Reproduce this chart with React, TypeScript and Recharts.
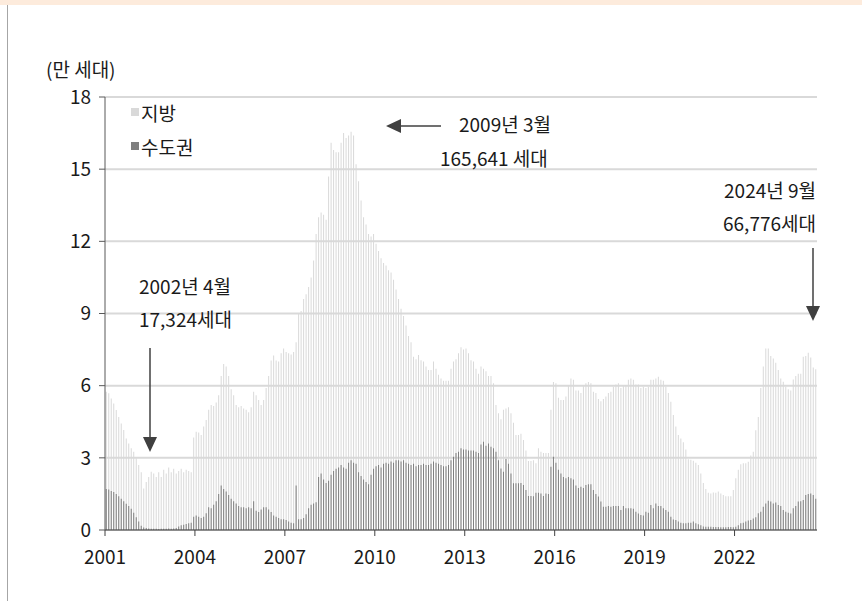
import { BarChart, Bar, XAxis, YAxis, CartesianGrid } from 'recharts';

const W = 862;
const H = 601;
const MARGIN = { top: 97, right: 45, bottom: 41, left: 0 };
const Y_AXIS_W = 105;
const X_AXIS_H = 30;
const FONT = "'Noto Sans CJK KR', 'Noto Sans', sans-serif";

// monthly categories, 2001-01 .. 2024-09
const months: string[] = [];
for (let y = 2001; y <= 2024; y++) {
  for (let m = 1; m <= 12; m++) {
    if (y === 2024 && m > 9) break;
    months.push(`${y}-${String(m).padStart(2, '0')}`);
  }
}

const yTicks = [0, 3, 6, 9, 12, 15, 18];

// top of each bar (지방 + 수도권), 만 세대
const stackTop = [
  5.75, 5.68, 5.47, 5.26, 4.99, 4.7, 4.43, 4.16, 3.8, 3.6, 3.4, 3.25, // 2001
  2.98, 2.7, 2.4, 1.73, 2.0, 2.2, 2.42, 2.35, 2.2, 2.4, 2.2, 2.5, // 2002
  2.35, 2.6, 2.4, 2.55, 2.35, 2.45, 2.55, 2.4, 2.5, 2.45, 2.4, 3.85, // 2003
  4.08, 4.05, 3.95, 4.3, 4.57, 5.0, 5.2, 5.15, 5.3, 5.6, 6.4, 6.9, // 2004
  6.8, 6.4, 5.85, 5.6, 5.2, 5.1, 5.15, 5.05, 5.0, 4.9, 5.1, 5.75, // 2005
  5.6, 5.4, 5.2, 5.4, 5.9, 6.4, 7.05, 7.25, 7.05, 7.0, 7.35, 7.55, // 2006
  7.4, 7.35, 7.3, 7.4, 7.8, 9.0, 9.1, 9.6, 9.8, 10.1, 10.5, 11.2, // 2007
  12.3, 13.0, 13.2, 13.1, 12.9, 14.7, 16.1, 15.8, 15.7, 15.7, 16.1, 16.5, // 2008
  16.3, 16.4, 16.56, 16.4, 15.2, 14.5, 13.7, 13.0, 12.7, 12.3, 12.2, 12.3, // 2009
  11.9, 11.6, 11.3, 11.1, 11.0, 10.8, 10.7, 10.4, 10.0, 9.6, 9.2, 8.9, // 2010
  8.5, 8.06, 7.8, 7.2, 7.1, 7.27, 7.06, 7.0, 6.8, 6.65, 6.65, 7.0, // 2011
  6.7, 6.45, 6.3, 6.2, 6.2, 6.2, 6.7, 7.0, 7.1, 7.35, 7.6, 7.5, // 2012
  7.55, 7.35, 7.06, 7.0, 6.7, 6.5, 6.8, 6.7, 6.6, 6.4, 6.4, 6.1, // 2013
  5.2, 4.85, 4.6, 5.0, 5.05, 5.1, 4.85, 4.46, 3.95, 3.95, 4.0, 3.74, // 2014
  3.3, 2.87, 2.87, 2.9, 2.77, 3.4, 3.25, 3.2, 3.2, 3.2, 5.0, 6.15, // 2015
  6.1, 5.5, 5.4, 5.4, 5.55, 6.0, 6.3, 6.25, 5.8, 5.8, 5.7, 6.0, // 2016
  6.1, 6.15, 6.1, 5.75, 5.7, 5.45, 5.35, 5.45, 5.55, 5.7, 5.75, 5.95, // 2017
  6.05, 6.1, 5.9, 6.0, 6.0, 6.25, 6.3, 6.25, 6.05, 6.05, 5.9, 5.95, // 2018
  5.9, 5.95, 6.25, 6.25, 6.3, 6.37, 6.25, 6.2, 5.95, 5.7, 5.33, 4.78, // 2019
  4.3, 3.95, 3.8, 3.65, 3.35, 2.94, 2.92, 2.88, 2.8, 2.7, 2.35, 1.95, // 2020
  1.7, 1.55, 1.52, 1.56, 1.55, 1.6, 1.52, 1.45, 1.4, 1.4, 1.4, 1.66, // 2021
  2.15, 2.5, 2.73, 2.77, 2.77, 2.84, 3.1, 3.25, 4.15, 4.7, 5.9, 6.8, // 2022
  7.55, 7.55, 7.23, 7.13, 6.95, 6.65, 6.3, 6.16, 5.96, 5.85, 5.8, 6.26, // 2023
  6.4, 6.5, 6.5, 7.2, 7.23, 7.37, 7.17, 6.76, 6.68, // 2024
];

// 수도권, 만 세대
const metro = [
  1.7, 1.68, 1.62, 1.58, 1.5, 1.4, 1.3, 1.2, 1.09, 1.0, 0.88, 0.72, // 2001
  0.53, 0.35, 0.18, 0.1, 0.08, 0.06, 0.05, 0.05, 0.05, 0.04, 0.05, 0.05, // 2002
  0.05, 0.06, 0.05, 0.06, 0.08, 0.15, 0.2, 0.22, 0.25, 0.28, 0.3, 0.55, // 2003
  0.6, 0.55, 0.5, 0.55, 0.7, 0.95, 0.9, 1.05, 1.2, 1.5, 1.85, 1.7, // 2004
  1.6, 1.45, 1.3, 1.2, 1.1, 1.0, 0.95, 0.95, 0.9, 0.95, 0.9, 1.2, // 2005
  0.8, 0.75, 0.85, 0.95, 0.95, 0.85, 0.75, 0.6, 0.55, 0.5, 0.45, 0.45, // 2006
  0.42, 0.35, 0.3, 0.28, 1.85, 0.45, 0.45, 0.5, 0.65, 0.9, 1.05, 1.1, // 2007
  1.15, 2.2, 2.35, 2.1, 1.95, 2.05, 2.3, 2.45, 2.55, 2.6, 2.7, 2.6, // 2008
  2.55, 2.8, 2.9, 2.8, 2.75, 2.4, 2.25, 2.1, 2.0, 1.9, 2.3, 2.55, // 2009
  2.65, 2.7, 2.6, 2.75, 2.8, 2.75, 2.85, 2.8, 2.9, 2.9, 2.85, 2.9, // 2010
  2.8, 2.75, 2.7, 2.75, 2.65, 2.7, 2.7, 2.75, 2.7, 2.7, 2.75, 2.85, // 2011
  2.8, 2.75, 2.7, 2.65, 2.65, 2.7, 2.9, 3.05, 3.2, 3.25, 3.4, 3.35, // 2012
  3.35, 3.3, 3.3, 3.3, 3.25, 3.2, 3.55, 3.67, 3.5, 3.6, 3.46, 3.4, // 2013
  3.25, 2.9, 2.56, 2.42, 2.95, 2.75, 2.35, 1.94, 1.94, 1.94, 1.95, 1.87, // 2014
  1.66, 1.41, 1.41, 1.4, 1.55, 1.55, 1.52, 1.41, 1.52, 1.5, 2.63, 3.05, // 2015
  2.8, 2.5, 2.35, 2.2, 2.15, 2.2, 2.15, 2.1, 1.85, 1.75, 1.8, 1.75, // 2016
  1.87, 1.9, 1.9, 1.66, 1.5, 1.39, 1.18, 0.97, 0.97, 1.0, 0.97, 1.0, // 2017
  1.0, 1.0, 0.83, 1.0, 0.9, 0.9, 0.9, 0.88, 0.76, 0.69, 0.62, 0.6, // 2018
  0.76, 0.72, 1.04, 0.9, 1.1, 1.0, 1.0, 0.9, 0.83, 0.76, 0.55, 0.44, // 2019
  0.42, 0.35, 0.3, 0.28, 0.28, 0.3, 0.3, 0.35, 0.28, 0.24, 0.2, 0.15, // 2020
  0.14, 0.13, 0.13, 0.12, 0.12, 0.12, 0.11, 0.11, 0.11, 0.12, 0.12, 0.11, // 2021
  0.14, 0.2, 0.28, 0.3, 0.35, 0.39, 0.42, 0.48, 0.53, 0.7, 0.76, 0.97, // 2022
  1.1, 1.22, 1.18, 1.1, 1.14, 1.04, 1.0, 0.83, 0.76, 0.72, 0.69, 0.9, // 2023
  1.0, 1.18, 1.2, 1.25, 1.45, 1.5, 1.52, 1.45, 1.3, // 2024
];

const data = months.map((m, i) => ({ m, top: stackTop[i], metro: metro[i] }));

const PLOT_LEFT = MARGIN.left + Y_AXIS_W;
const PLOT_BOTTOM = H - MARGIN.bottom - X_AXIS_H;
const BAND = (W - PLOT_LEFT - MARGIN.right) / months.length;

// year label sits on the boundary before January, not the bar centre
function YearTick(props: any) {
  const { x, payload } = props;
  const bx = x - BAND / 2;
  return (
    <g>
      <line x1={bx} x2={bx} y1={PLOT_BOTTOM} y2={PLOT_BOTTOM + 6} stroke="#404040" />
      <text
        x={bx}
        y={PLOT_BOTTOM + 25}
        dominantBaseline="central"
        textAnchor="middle"
        fontSize={19}
        fontFamily={FONT}
        fill="#1a1a1a"
      >
        {String(payload.value).slice(0, 4)}
      </text>
    </g>
  );
}

function DownArrow({ x, y1, y2 }: { x: number; y1: number; y2: number }) {
  return (
    <g>
      <line x1={x} x2={x} y1={y1} y2={y2 - 14} stroke="#404040" strokeWidth={1.5} />
      <polygon points={`${x - 7},${y2 - 15} ${x + 7},${y2 - 15} ${x},${y2}`} fill="#404040" />
    </g>
  );
}

export default function App() {
  const txt = { fontFamily: FONT, fontSize: 19, fill: '#1a1a1a' };
  return (
    <div style={{ position: 'relative', width: W, height: H, background: '#fff' }}>
      <style>{'body{margin:0}'}</style>
      <BarChart width={W} height={H} data={data} margin={MARGIN} barCategoryGap="30%">
        <CartesianGrid xAxisId="a" vertical={false} stroke="#d9d9d9" strokeWidth={2} />
        <XAxis
          xAxisId="a"
          dataKey="m"
          interval={35}
          height={X_AXIS_H}
          tickLine={false}
          axisLine={{ stroke: '#404040' }}
          tick={<YearTick />}
        />
        <XAxis xAxisId="b" dataKey="m" hide />
        <YAxis
          domain={[0, 18]}
          ticks={yTicks}
          interval={0}
          width={Y_AXIS_W}
          tickSize={6}
          tickMargin={8}
          axisLine={{ stroke: '#595959' }}
          tickLine={{ stroke: '#595959' }}
          tick={{ fontSize: 19, fill: '#1a1a1a', fontFamily: FONT }}
        />
        <Bar xAxisId="a" dataKey="top" name="지방" fill="#d9d9d9" isAnimationActive={false} />
        <Bar xAxisId="b" dataKey="metro" name="수도권" fill="#7f7f7f" isAnimationActive={false} />
      </BarChart>

      <svg
        width={W}
        height={H}
        style={{ position: 'absolute', left: 0, top: 0, pointerEvents: 'none' }}
      >
        <rect x={0} y={0} width={W} height={5} fill="#fdebdc" />
        <line x1={7.5} x2={7.5} y1={5} y2={H} stroke="#a6a6a6" />

        <text x={46} y={68} dominantBaseline="central" {...txt}>(만 세대)</text>

        {/* legend */}
        <rect x={131} y={108} width={8} height={8} fill="#d9d9d9" />
        <text x={141} y={112} dominantBaseline="central" {...txt}>지방</text>
        <rect x={131} y={142} width={8} height={8} fill="#7f7f7f" />
        <text x={141} y={146} dominantBaseline="central" {...txt}>수도권</text>

        {/* 2009-03 peak */}
        <line x1={441} x2={398} y1={126} y2={126} stroke="#404040" strokeWidth={1.5} />
        <polygon points="386,126 401,119 401,133" fill="#404040" />
        <text x={459} y={123} dominantBaseline="central" {...txt}>2009년 3월</text>
        <text x={440} y={157} dominantBaseline="central" {...txt}>165,641 세대</text>

        {/* 2024-09 latest */}
        <text x={816} y={189} textAnchor="end" dominantBaseline="central" {...txt}>2024년 9월</text>
        <text x={816} y={222} textAnchor="end" dominantBaseline="central" {...txt}>66,776세대</text>
        <DownArrow x={813} y1={248} y2={321} />

        {/* 2002-04 trough */}
        <text x={139} y={285} dominantBaseline="central" {...txt}>2002년 4월</text>
        <text x={139} y={318} dominantBaseline="central" {...txt}>17,324세대</text>
        <DownArrow x={150} y1={348} y2={452} />
      </svg>
    </div>
  );
}
